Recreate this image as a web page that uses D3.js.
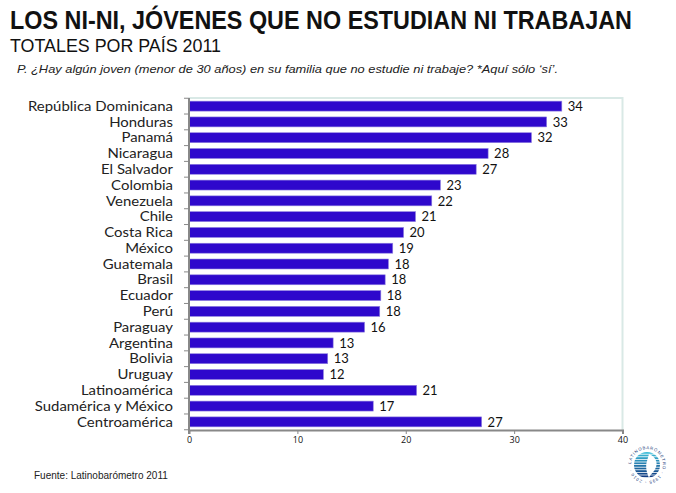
<!DOCTYPE html>
<html>
<head>
<meta charset="utf-8">
<script src="https://cdn.jsdelivr.net/npm/d3@7"></script>
<style>
  body { margin: 0; background: #fff; }
  svg { display: block; }
</style>
</head>
<body>
<div id="chart"></div>
<script>
// countries, top to bottom
const countries = [
  'República Dominicana', 'Honduras', 'Panamá', 'Nicaragua', 'El Salvador',
  'Colombia', 'Venezuela', 'Chile', 'Costa Rica', 'México', 'Guatemala',
  'Brasil', 'Ecuador', 'Perú', 'Paraguay', 'Argentina', 'Bolivia', 'Uruguay',
  'Latinoamérica', 'Sudamérica y México', 'Centroamérica'
];
// bar lengths (labels are rounded)
const values = [
  34.4, 33.0, 31.6, 27.6, 26.5,
  23.2, 22.4, 20.9, 19.8, 18.8, 18.4,
  18.1, 17.7, 17.6, 16.2, 13.3, 12.8, 12.4,
  21.0, 17.0, 27.0
];
const xTicks = [0, 10, 20, 30, 40];

const title = 'LOS NI-NI, JÓVENES QUE NO ESTUDIAN NI TRABAJAN';
const subtitle = 'TOTALES POR PAÍS 2011';
const question = 'P. ¿Hay algún joven (menor de 30 años) en su familia que no estudie ni trabaje? *Aquí sólo ‘sí’.';
const source = 'Fuente: Latinobarómetro 2011';

const width = 676, height = 493;
const plot = {left: 189, right: 622.5, top: 98, bottom: 430};
const labelFont = 'Lato, "Open Sans", sans-serif';

const svg = d3.select('#chart').append('svg')
    .attr('width', width)
    .attr('height', height);

// Titles
svg.append('text')
    .attr('x', 10).attr('y', 29)
    .attr('textLength', 622).attr('lengthAdjust', 'spacingAndGlyphs')
    .style('font-family', '"Liberation Sans Narrow", "Liberation Sans", Arial, sans-serif')
    .style('font-weight', 'bold').style('font-size', '25px').style('fill', '#111')
    .text(title);

svg.append('text')
    .attr('x', 10).attr('y', 52)
    .attr('textLength', 211).attr('lengthAdjust', 'spacingAndGlyphs')
    .style('font-family', '"Liberation Sans Narrow", "Liberation Sans", Arial, sans-serif')
    .style('font-size', '18px').style('fill', '#111')
    .text(subtitle);

svg.append('text')
    .attr('x', 17).attr('y', 73)
    .attr('textLength', 541).attr('lengthAdjust', 'spacingAndGlyphs')
    .style('font-family', '"Liberation Sans Narrow", "Liberation Sans", Arial, sans-serif')
    .style('font-style', 'italic').style('font-size', '11.5px').style('fill', '#222')
    .text(question);

svg.append('text')
    .attr('x', 34).attr('y', 479)
    .style('font-family', '"Liberation Sans", Arial, sans-serif')
    .style('font-size', '10px').style('fill', '#222')
    .text(source);

// Scales
const x = d3.scaleLinear().domain([0, 40]).range([plot.left, plot.right]);
const y = d3.scaleBand().domain(countries).range([plot.top, plot.bottom])
    .paddingInner(0.37).paddingOuter(0.2);

// plot area frame (light, top and right)
svg.append('path')
    .attr('d', `M${plot.left},${plot.top}H${plot.right}V${plot.bottom}`)
    .attr('fill', 'none').attr('stroke', '#d9e9e6').attr('stroke-width', 2);

// Bars
svg.selectAll('.bar')
    .data(values)
  .join('rect')
    .attr('class', 'bar')
    .attr('x', x(0))
    .attr('y', (d, i) => y(countries[i]))
    .attr('width', d => x(d) - x(0))
    .attr('height', y.bandwidth())
    .attr('fill', '#2e08cc')
    .attr('stroke', '#8f7fe0')
    .attr('stroke-width', 0.6);

// value labels
svg.selectAll('.val')
    .data(values)
  .join('text')
    .attr('class', 'val')
    .attr('x', d => x(d) + 6)
    .attr('y', (d, i) => y(countries[i]) + y.bandwidth() / 2)
    .attr('dy', '0.36em')
    .style('font-family', labelFont)
    .style('font-size', '13px').style('fill', '#111')
    .text(d => Math.round(d));

// Category axis (labels only, ticks drawn between bands below)
const yAxis = svg.append('g')
    .attr('transform', `translate(${plot.left},0)`)
    .call(d3.axisLeft(y).tickSize(0).tickPadding(16));
yAxis.select('.domain').remove();
const catText = yAxis.selectAll('text')
    .attr('dy', '0.36em')
    .style('font-family', labelFont)
    .style('font-size', '13px').style('fill', '#222');

// widen the category labels a bit, Calibri in the original is wider at this height
const longest = d3.max(catText.nodes(), n => n.getComputedTextLength());
const stretch = 145 / longest;
catText.each(function() {
  const w = this.getComputedTextLength();
  d3.select(this).attr('textLength', w * stretch).attr('lengthAdjust', 'spacingAndGlyphs');
});

const step = y.step();
const boundaries = d3.range(countries.length + 1)
    .map(i => plot.top + y.paddingOuter() * step - y.paddingInner() * step / 2 + i * step);
svg.append('g').selectAll('line')
    .data(boundaries)
  .join('line')
    .attr('x1', plot.left - 5).attr('x2', plot.left)
    .attr('y1', d => d).attr('y2', d => d)
    .attr('stroke', '#888').attr('stroke-width', 1);
svg.append('line')
    .attr('x1', plot.left).attr('x2', plot.left)
    .attr('y1', plot.top).attr('y2', plot.bottom + 4)
    .attr('stroke', '#888').attr('stroke-width', 2);

// Value axis
const xAxis = svg.append('g')
    .attr('transform', `translate(0,${plot.bottom})`)
    .call(d3.axisBottom(x).tickValues(xTicks).tickSize(4).tickPadding(3));
xAxis.select('.domain').attr('stroke', '#888').attr('stroke-width', 2);
xAxis.selectAll('.tick line').attr('stroke', '#888');
xAxis.selectAll('text')
    .style('font-family', '"Open Sans", "Noto Sans", sans-serif')
    .style('font-size', '9px').style('fill', '#111');

// Latinobarómetro logo (simplified)
const logo = svg.append('g').attr('transform', 'translate(647,465)');
logo.append('defs').append('clipPath').attr('id', 'logo-clip')
  .append('circle').attr('r', 13);
const stripes = d3.range(-13, 13, 2.6);
const stripeColor = d3.scaleLinear().domain([-13, 13]).range(['#3bbcd8', '#0b2c78']);
logo.append('g').attr('clip-path', 'url(#logo-clip)')
  .selectAll('rect')
  .data(stripes)
  .join('rect')
    .attr('x', -13).attr('y', d => d)
    .attr('width', 26).attr('height', 1.8)
    .attr('fill', d => stripeColor(d));
logo.append('path')
    .attr('d', 'M2,-11 C8,-9 11,-3 9,2 C7,8 3,9 2,13 C0,8 -2,2 0,-4 Z')
    .attr('fill', '#fff');
logo.append('path').attr('id', 'logo-arc')
    .attr('d', 'M -16,0 A 16,16 0 1,1 16,0 A 16,16 0 1,1 -16,0')
    .attr('fill', 'none');
logo.append('text')
    .style('font-family', '"Liberation Sans", Arial, sans-serif')
    .style('font-size', '4.2px').style('fill', '#1a3a7a').style('letter-spacing', '0.8px')
  .append('textPath').attr('href', '#logo-arc').attr('startOffset', '1%')
    .text('LATINOBARÓMETRO · 1995 - 2010 ·');
</script>
</body>
</html>
